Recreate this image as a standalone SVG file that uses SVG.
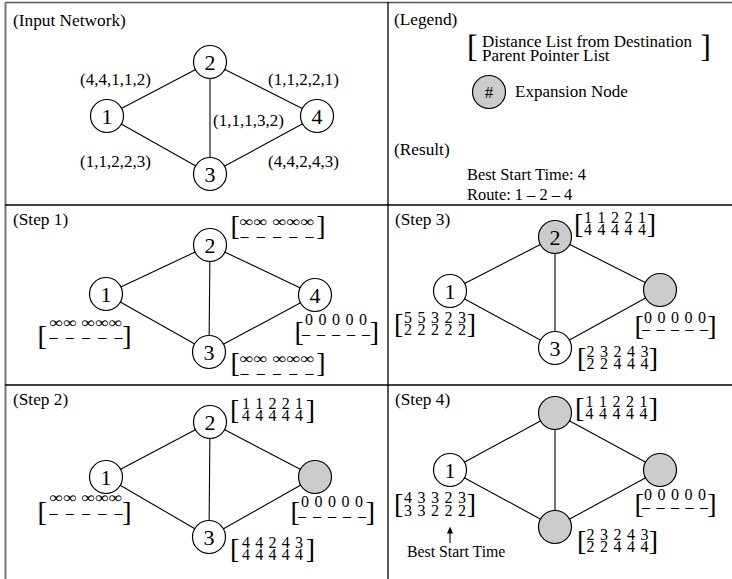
<svg xmlns="http://www.w3.org/2000/svg" width="732" height="579" viewBox="0 0 732 579">
  <style>
    text { font-family: "Liberation Serif", "Times New Roman", serif; fill: #000; }
    .hdr { font-size: 17.3px; }
    .lbl { font-size: 17px; }
    .res { font-size: 16.4px; }
    .num { font-size: 22px; text-anchor: middle; }
    .mat { font-size: 16px; }
    .bk { font-size: 28px; }
    .node { fill: #fff; stroke: #000; stroke-width: 1.2; }
    .exp { fill: #cccccc; stroke: #000; stroke-width: 1.2; }
    .edge { stroke: #000; stroke-width: 1.1; fill: none; }
    .grid { stroke: #000; stroke-width: 1.3; fill: none; }
  </style>

  <!-- table frame -->
  <g id="frame">
    <line x1="5" y1="2.5" x2="732" y2="2.5" stroke="#555" stroke-width="1.5"/>
    <line x1="5.5" y1="2" x2="5.5" y2="579" stroke="#777" stroke-width="2"/>
    <line class="grid" x1="5" y1="205" x2="732" y2="205"/>
    <line class="grid" x1="5" y1="385" x2="732" y2="385"/>
    <line class="grid" x1="388" y1="2" x2="388" y2="579"/>
  </g>

  <!-- ===== Input Network ===== -->
  <g id="panel-input">
    <text class="hdr" x="13" y="26">(Input Network)</text>
    <g id="input-edges">
      <line class="edge" x1="107" y1="116" x2="210" y2="62"/>
      <line class="edge" x1="107" y1="116" x2="210" y2="174"/>
      <line class="edge" x1="210" y1="62" x2="210" y2="174"/>
      <line class="edge" x1="210" y1="62" x2="317" y2="116"/>
      <line class="edge" x1="210" y1="174" x2="317" y2="116"/>
      <text class="lbl" x="80" y="85">(4,4,1,1,2)</text>
      <text class="lbl" x="268" y="85">(1,1,2,2,1)</text>
      <text class="lbl" x="213" y="126">(1,1,1,3,2)</text>
      <text class="lbl" x="80" y="167">(1,1,2,2,3)</text>
      <text class="lbl" x="268" y="167">(4,4,2,4,3)</text>
    </g>
    <g id="in-n1"><circle class="node" cx="107" cy="116" r="16.5"/><text class="num" x="107" y="124">1</text></g>
    <g id="in-n2"><circle class="node" cx="210" cy="62" r="16.5"/><text class="num" x="210" y="70">2</text></g>
    <g id="in-n3"><circle class="node" cx="210" cy="174" r="16.5"/><text class="num" x="210" y="182">3</text></g>
    <g id="in-n4"><circle class="node" cx="317" cy="116" r="16.5"/><text class="num" x="317" y="124">4</text></g>
  </g>

  <!-- ===== Legend / Result ===== -->
  <g id="panel-legend">
    <text class="hdr" x="394" y="25">(Legend)</text>
    <text id="legend-lists" class="lbl"><tspan x="467" y="57" style="font-size:32px">[</tspan><tspan x="482" y="47">Distance List from Destination</tspan><tspan x="482" y="61">Parent Pointer List</tspan><tspan x="700.3" y="57" style="font-size:32px">]</tspan></text>
    <g id="legend-expansion">
      <circle class="exp" cx="489" cy="92" r="16.5"/>
      <text class="lbl" x="489" y="98" text-anchor="middle">#</text>
      <text class="lbl" x="515" y="97">Expansion Node</text>
    </g>
    <text class="hdr" x="394" y="155">(Result)</text>
    <text class="res" x="467" y="180">Best Start Time: 4</text>
    <text class="res" x="467" y="200">Route: 1 – 2 – 4</text>
  </g>

  <!-- ===== Step 1 ===== -->
  <g id="panel-step1">
    <text class="hdr" x="13" y="225">(Step 1)</text>
    <g id="s1-edges">
      <line class="edge" x1="106" y1="294" x2="210" y2="245"/>
      <line class="edge" x1="106" y1="294" x2="209" y2="352"/>
      <line class="edge" x1="210" y1="245" x2="209" y2="352"/>
      <line class="edge" x1="210" y1="245" x2="315" y2="295"/>
      <line class="edge" x1="209" y1="352" x2="315" y2="295"/>
    </g>
    <g id="s1-n1">
      <circle class="node" cx="106" cy="294" r="16.5"/><text class="num" x="106" y="302">1</text>
      <text class="mat"><tspan class="bk" x="37.5" y="345">[</tspan><tspan x="49.5" y="328" textLength="73" lengthAdjust="spacingAndGlyphs">∞∞ ∞∞∞</tspan><tspan x="49.5" y="342" textLength="73" lengthAdjust="spacing">– – – – –</tspan><tspan class="bk" x="122.2" y="345">]</tspan></text>
    </g>
    <g id="s1-n2">
      <circle class="node" cx="210" cy="245" r="16.5"/><text class="num" x="210" y="253">2</text>
      <text class="mat"><tspan class="bk" x="230.5" y="235">[</tspan><tspan x="239.5" y="227" textLength="75" lengthAdjust="spacingAndGlyphs">∞∞ ∞∞∞</tspan><tspan x="240.5" y="241" textLength="73" lengthAdjust="spacing">– – – – –</tspan><tspan class="bk" x="316.2" y="235">]</tspan></text>
    </g>
    <g id="s1-n3">
      <circle class="node" cx="209" cy="352" r="16.5"/><text class="num" x="209" y="360">3</text>
      <text class="mat"><tspan class="bk" x="230.5" y="372">[</tspan><tspan x="239.5" y="364" textLength="75" lengthAdjust="spacingAndGlyphs">∞∞ ∞∞∞</tspan><tspan x="240.5" y="378" textLength="73" lengthAdjust="spacing">– – – – –</tspan><tspan class="bk" x="316.2" y="372">]</tspan></text>
    </g>
    <g id="s1-n4">
      <circle class="node" cx="315" cy="295" r="16.5"/><text class="num" x="315" y="303">4</text>
      <text class="mat"><tspan class="bk" x="294.5" y="341">[</tspan><tspan x="305" y="325" textLength="62" lengthAdjust="spacing">0 0 0 0 0</tspan><tspan x="302" y="339" textLength="68" lengthAdjust="spacing">– – – – –</tspan><tspan class="bk" x="369.7" y="341">]</tspan></text>
    </g>
  </g>

  <!-- ===== Step 2 ===== -->
  <g id="panel-step2">
    <text class="hdr" x="13" y="405">(Step 2)</text>
    <g id="s2-edges">
      <line class="edge" x1="106" y1="477" x2="210" y2="422"/>
      <line class="edge" x1="106" y1="477" x2="209" y2="537"/>
      <line class="edge" x1="210" y1="422" x2="209" y2="537"/>
      <line class="edge" x1="210" y1="422" x2="315" y2="477"/>
      <line class="edge" x1="209" y1="537" x2="315" y2="477"/>
    </g>
    <g id="s2-n1">
      <circle class="node" cx="106" cy="477" r="16.5"/><text class="num" x="106" y="485">1</text>
      <text class="mat"><tspan class="bk" x="37.5" y="521">[</tspan><tspan x="49.5" y="503" textLength="73" lengthAdjust="spacingAndGlyphs">∞∞ ∞∞∞</tspan><tspan x="49.5" y="518" textLength="73" lengthAdjust="spacing">– – – – –</tspan><tspan class="bk" x="122.2" y="521">]</tspan></text>
    </g>
    <g id="s2-n2">
      <circle class="node" cx="210" cy="422" r="16.5"/><text class="num" x="210" y="430">2</text>
      <text class="mat"><tspan class="bk" x="230" y="419">[</tspan><tspan x="242" y="409" textLength="61" lengthAdjust="spacing">1 1 2 2 1</tspan><tspan x="242" y="421" textLength="61" lengthAdjust="spacing">4 4 4 4 4</tspan><tspan class="bk" x="305.8" y="419">]</tspan></text>
    </g>
    <g id="s2-n3">
      <circle class="node" cx="209" cy="537" r="16.5"/><text class="num" x="209" y="545">3</text>
      <text class="mat"><tspan class="bk" x="230" y="558">[</tspan><tspan x="242" y="548" textLength="61" lengthAdjust="spacing">4 4 2 4 3</tspan><tspan x="242" y="560" textLength="61" lengthAdjust="spacing">4 4 4 4 4</tspan><tspan class="bk" x="305.8" y="558">]</tspan></text>
    </g>
    <g id="s2-n4">
      <circle class="exp" cx="315" cy="477" r="16.5"/>
      <text class="mat"><tspan class="bk" x="290.5" y="521">[</tspan><tspan x="301" y="507" textLength="62" lengthAdjust="spacing">0 0 0 0 0</tspan><tspan x="298" y="521" textLength="68" lengthAdjust="spacing">– – – – –</tspan><tspan class="bk" x="365.7" y="521">]</tspan></text>
    </g>
  </g>

  <!-- ===== Step 3 ===== -->
  <g id="panel-step3">
    <text class="hdr" x="395" y="225">(Step 3)</text>
    <g id="s3-edges">
      <line class="edge" x1="450" y1="291" x2="555" y2="237"/>
      <line class="edge" x1="450" y1="291" x2="555" y2="348"/>
      <line class="edge" x1="555" y1="237" x2="555" y2="348"/>
      <line class="edge" x1="555" y1="237" x2="660" y2="290"/>
      <line class="edge" x1="555" y1="348" x2="660" y2="290"/>
    </g>
    <g id="s3-n1">
      <circle class="node" cx="450" cy="291" r="16.5"/><text class="num" x="450" y="299">1</text>
      <text class="mat"><tspan class="bk" x="394" y="333">[</tspan><tspan x="404" y="323" textLength="62" lengthAdjust="spacing">5 5 3 2 3</tspan><tspan x="404" y="335" textLength="62" lengthAdjust="spacing">2 2 2 2 2</tspan><tspan class="bk" x="466.8" y="333">]</tspan></text>
    </g>
    <g id="s3-n2">
      <circle class="exp" cx="555" cy="237" r="16.5"/><text class="num" x="555" y="245">2</text>
      <text class="mat"><tspan class="bk" x="574" y="233">[</tspan><tspan x="584" y="223" textLength="62" lengthAdjust="spacing">1 1 2 2 1</tspan><tspan x="584" y="235" textLength="62" lengthAdjust="spacing">4 4 4 4 4</tspan><tspan class="bk" x="646.8" y="233">]</tspan></text>
    </g>
    <g id="s3-n3">
      <circle class="node" cx="555" cy="348" r="16.5"/><text class="num" x="555" y="356">3</text>
      <text class="mat"><tspan class="bk" x="577" y="367">[</tspan><tspan x="586.5" y="357" textLength="62" lengthAdjust="spacing">2 3 2 4 3</tspan><tspan x="586.5" y="369" textLength="62" lengthAdjust="spacing">2 2 4 4 4</tspan><tspan class="bk" x="648.8" y="367">]</tspan></text>
    </g>
    <g id="s3-n4">
      <circle class="exp" cx="660" cy="290" r="16.5"/>
      <text class="mat"><tspan class="bk" x="634.5" y="335">[</tspan><tspan x="644" y="323" textLength="62" lengthAdjust="spacing">0 0 0 0 0</tspan><tspan x="642" y="334" textLength="66" lengthAdjust="spacing">– – – – –</tspan><tspan class="bk" x="707.2" y="335">]</tspan></text>
    </g>
  </g>

  <!-- ===== Step 4 ===== -->
  <g id="panel-step4">
    <text class="hdr" x="395" y="405">(Step 4)</text>
    <g id="s4-edges">
      <line class="edge" x1="450" y1="470" x2="555" y2="413"/>
      <line class="edge" x1="450" y1="470" x2="555" y2="527"/>
      <line class="edge" x1="555" y1="413" x2="555" y2="527"/>
      <line class="edge" x1="555" y1="413" x2="660" y2="470"/>
      <line class="edge" x1="555" y1="527" x2="660" y2="470"/>
      <!-- pointer to the chosen start time -->
      <line class="edge" x1="450" y1="543" x2="450" y2="532"/>
      <polygon points="447,533.5 450,526.5 453,533.5" fill="#000"/>
    </g>
    <g id="s4-n1">
      <circle class="node" cx="450" cy="470" r="16.5"/><text class="num" x="450" y="478">1</text>
      <text class="mat"><tspan class="bk" x="394" y="513">[</tspan><tspan x="404" y="503" textLength="62" lengthAdjust="spacing">4 3 3 2 3</tspan><tspan x="404" y="515.5" textLength="62" lengthAdjust="spacing">3 3 2 2 2</tspan><tspan class="bk" x="466.8" y="513">]</tspan></text>
      <text class="res" x="407" y="557" style="font-size:15.8px">Best Start Time</text>
    </g>
    <g id="s4-n2">
      <circle class="exp" cx="555" cy="413" r="16.5"/>
      <text class="mat"><tspan class="bk" x="575" y="417">[</tspan><tspan x="585.5" y="407" textLength="62" lengthAdjust="spacing">1 1 2 2 1</tspan><tspan x="585.5" y="419" textLength="62" lengthAdjust="spacing">4 4 4 4 4</tspan><tspan class="bk" x="648.8" y="417">]</tspan></text>
    </g>
    <g id="s4-n3">
      <circle class="exp" cx="555" cy="527" r="16.5"/>
      <text class="mat"><tspan class="bk" x="577" y="550">[</tspan><tspan x="586.5" y="540" textLength="62" lengthAdjust="spacing">2 3 2 4 3</tspan><tspan x="586.5" y="552" textLength="62" lengthAdjust="spacing">2 2 4 4 4</tspan><tspan class="bk" x="648.8" y="550">]</tspan></text>
    </g>
    <g id="s4-n4">
      <circle class="exp" cx="660" cy="470" r="16.5"/>
      <text class="mat"><tspan class="bk" x="634.5" y="513">[</tspan><tspan x="644" y="500" textLength="62" lengthAdjust="spacing">0 0 0 0 0</tspan><tspan x="642" y="512" textLength="66" lengthAdjust="spacing">– – – – –</tspan><tspan class="bk" x="707.2" y="513">]</tspan></text>
    </g>
  </g>
</svg>
